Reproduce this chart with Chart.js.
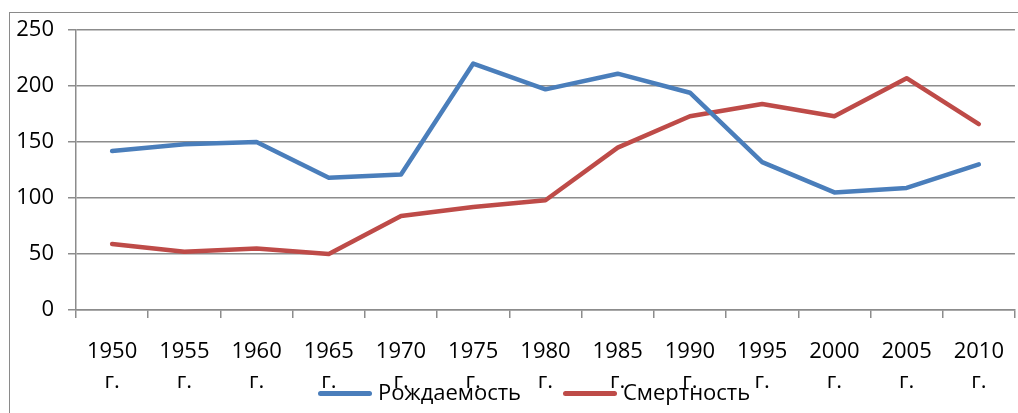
<!DOCTYPE html>
<html lang="ru">
<head>
<meta charset="utf-8">
<title>Рождаемость и смертность</title>
<script src="https://cdn.jsdelivr.net/npm/chart.js@4/dist/chart.umd.min.js"></script>
<style>
  html, body { margin: 0; padding: 0; background: #fff; overflow: hidden; }
  body { width: 1018px; height: 413px; position: relative; font-family: "Open Sans", sans-serif; }
  .frame { position: absolute; left: 9px; top: 12px; width: 1100px; height: 500px; border-left: 1px solid #8a8a8a; border-top: 1px solid #8a8a8a; }
  .wrap { position: absolute; left: 0; top: 0; width: 1022px; height: 413px; }
  .legend-item { position: absolute; top: 376px; display: flex; align-items: center; font-size: 22px; color: #000; white-space: nowrap; }
  .legend-item .swatch { width: 54px; height: 5px; border-radius: 3px; margin-right: 6px; margin-top: 4px; }
</style>
</head>
<body>
<div class="frame"></div>
<div class="wrap"><canvas id="chart"></canvas></div>
<div class="legend-item" id="leg-0" style="left:318px"><span class="swatch"></span><span class="txt"></span></div>
<div class="legend-item" id="leg-1" style="left:563px"><span class="swatch"></span><span class="txt"></span></div>
<script>
// data
const years = ['1950', '1955', '1960', '1965', '1970', '1975', '1980', '1985', '1990', '1995', '2000', '2005', '2010'];
const births = [142, 148, 150, 118, 121, 220, 197, 211, 194, 132, 105, 109, 130];
const deaths = [59, 52, 55, 50, 84, 92, 98, 145, 173, 184, 173, 207, 166];
const seriesNames = ['Рождаемость', 'Смертность'];
const seriesColors = ['#4a7ebb', '#be4b48'];
const yTicks = [0, 50, 100, 150, 200, 250];

const FONT = { family: '"Open Sans", sans-serif', size: 22 };
const GRID = '#8c8c8c';

// legend is plain html, it sits over the "г." labels like in the original
seriesNames.forEach((name, i) => {
    const el = document.getElementById('leg-' + i);
    el.querySelector('.swatch').style.background = seriesColors[i];
    el.querySelector('.txt').innerText = name;
});

const ctx = document.getElementById('chart').getContext('2d');
new Chart(ctx, {
    type: 'line',
    data: {
        labels: years.map(y => [y, 'г.']),
        datasets: [
            { label: seriesNames[0], data: births, borderColor: seriesColors[0], borderWidth: 4.5, pointRadius: 0, tension: 0, borderCapStyle: 'round', borderJoinStyle: 'round' },
            { label: seriesNames[1], data: deaths, borderColor: seriesColors[1], borderWidth: 4.5, pointRadius: 0, tension: 0, borderCapStyle: 'round', borderJoinStyle: 'round' }
        ]
    },
    options: {
        responsive: true,
        maintainAspectRatio: false,
        animation: false,
        layout: { padding: { top: 30, right: 0, bottom: 0, left: 0 } },
        plugins: { legend: { display: false }, tooltip: { enabled: false } },
        scales: {
            x: {
                offset: true,
                grid: { offset: true, drawOnChartArea: false, color: GRID, lineWidth: 1.5, tickLength: 8 },
                border: { color: GRID, width: 1.5 },
                ticks: { color: '#000', font: { ...FONT, lineHeight: 1.4 }, padding: 18, autoSkip: false, maxRotation: 0, minRotation: 0 },
                afterFit: s => { s.height = 103; }
            },
            y: {
                min: 0,
                max: 250,
                afterBuildTicks: s => { s.ticks = yTicks.map(v => ({ value: v })); },
                grid: { color: GRID, lineWidth: 1.5, tickLength: 8 },
                border: { color: GRID, width: 1.5 },
                ticks: { color: '#000', font: FONT, padding: 14 },
                afterFit: s => { s.width = 76; }
            }
        }
    }
});
</script>
</body>
</html>
